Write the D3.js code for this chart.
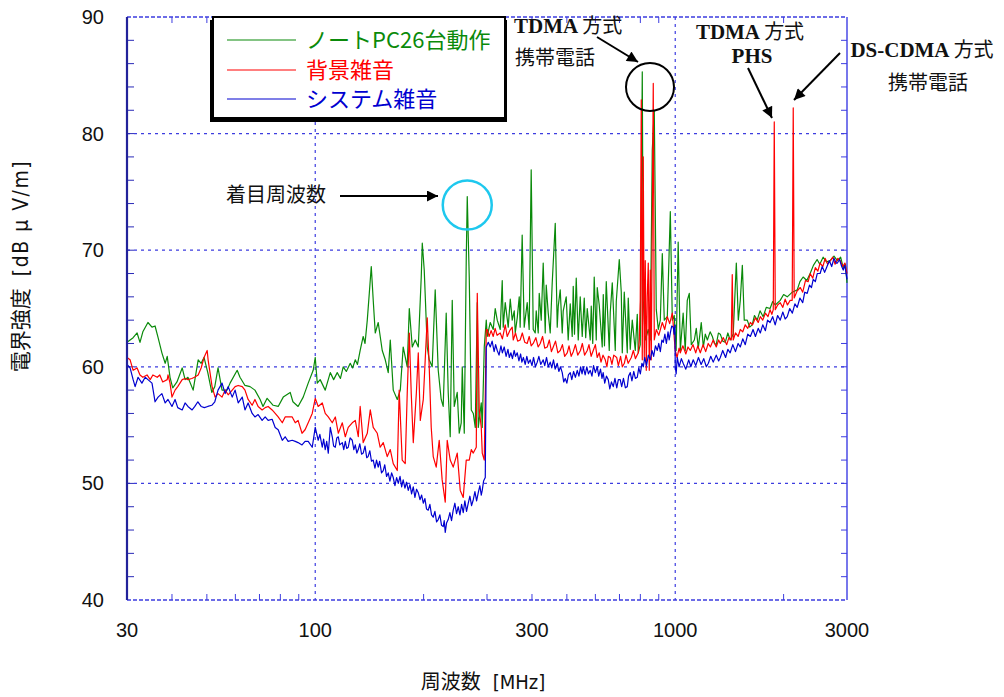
<!DOCTYPE html>
<html><head><meta charset="utf-8">
<script src="https://cdn.jsdelivr.net/npm/d3@7/dist/d3.min.js"></script>
<style>
html,body{margin:0;padding:0;background:#fff;}
svg{display:block;}
</style></head>
<body>
<svg id="chart" width="1004" height="697"></svg>
<script>
// ---------- DATA (frequency MHz, level dBµV/m) ----------
const seriesNames = ["ノートPC26台動作", "背景雑音", "システム雑音"];
const xTickLabels = ["30", "100", "300", "1000", "3000"];
const yTickLabels = [40, 50, 60, 70, 80, 90];

const notePC = [
[30.0,62.1],[30.6,62.3],[31.2,62.5],[32.0,62.9],[32.6,62.1],[33.2,63.0],[34.3,63.8],[35.2,63.4],[35.9,63.5],[36.6,62.5],
[37.5,61.2],[38.3,60.3],[38.8,60.9],[39.5,59.1],[40.2,58.2],[41.3,58.7],[42.7,59.9],[43.5,58.9],[44.3,59.1],[45.8,58.0],
[47.3,60.6],[48.2,60.3],[49.1,60.8],[50.3,59.5],[51.6,57.8],[52.6,58.3],[53.7,59.9],[55.1,58.0],[56.9,58.0],[58.0,58.6],
[60.7,59.7],[61.8,59.1],[63.8,58.4],[65.9,58.3],[68.0,58.0],[70.3,57.2],[71.6,56.6],[73.5,57.3],[76.4,56.7],[78.9,56.6],
[81.5,57.4],[85.2,57.8],[86.7,57.0],[89.6,56.6],[92.6,57.4],[95.6,58.6],[98.7,59.7],[100,60.8],[101.3,58.6],[103.2,58.9],
[106.6,58.0],[110.1,59.5],[112.5,58.9],[115.1,59.5],[117.5,59.0],[119.6,60.0],[122,59.6],[125.1,60.3],[127,59.9],[129.2,60.6],
[131,60.2],[133.3,61.4],[135.9,62.6],[137.5,62.0],[139.5,64.0],[141.3,66.3],
[143.1,68.6],[144.9,65.7],[146.8,62.9],[149.6,63.8],[153.5,61.4],[156.5,60.6],[159.5,59.5],[161.6,62.3],[164.7,58.0],[169.0,57.2],
[172.3,58.0],[175.5,61.7],[180.1,60.0],[182.5,65.0],[186.0,61.7],[189.6,62.3],[193.3,61.7],[197.0,67.7],[198.3,70.6],[200.8,68.3],
[204.7,61.7],[207.3,60.6],[211.3,60.0],[215.4,66.6],[219.6,59.7],[223.8,57.2],[226.7,56.6],[231.1,64.6],[234.1,57.8],[237.1,54.0],
[240.2,65.7],[243.3,56.6],[248.0,57.8],[251.2,54.3],[254.4,55.2],[256.1,60.0],[259.4,54.3],[262.7,69.2],[264.4,74.6],[267.8,67.7],
[271.3,56.3],[274.8,56.0],[278.3,54.8],[281.9,65.5],[283.7,54.8],[289.2,56.9],[291.0,54.8],[294.8,61.7],[298.6,64.0],[300.5,62.6],
[306.3,63.8],[312.2,63.2],[316.2,65.0],[320.3,64.0],[326.5,63.2],[330.7,67.4],[332.8,63.4],[337.1,65.5],[343.6,63.4],[348.1,65.8],
[352.5,64.0],[357.1,64.8],[359.4,62.9],[364.0,64.2],[368.7,66.0],[370.9,63.4],[375.7,71.3],[380.6,63.4],[388.0,65.5],[392.9,63.2],
[398.0,76.9],[403.2,63.2],[408.4,62.9],[411.0,64.8],[416.3,62.9],[419.0,66.3],[424.4,64.0],[429.8,68.9],[435.4,62.9],[438.2,67.0],
[443.8,64.6],[449.5,62.9],[455.3,67.2],[464.2,72.3],[470.1,63.4],[473.2,65.2],[479.2,66.6],[485.4,62.9],[488.5,64.8],[497.9,66.0],
[504.3,62.3],[510.9,65.4],[517.4,62.6],[520.8,66.9],[525,62.8],[530.9,67.6],[537.7,62.3],[544.6,66.0],[551.6,62.6],[558.8,65.9],
[564,62.5],[569.6,65.0],[580.6,62.3],[584.4,65.2],[590,62.0],[595.6,67.7],[603.4,62.3],[607.2,66.8],[615.0,65.3],[626.9,61.7],
[631.1,66.2],[636,61.8],[643.3,67.3],[655.7,61.4],[660,64.7],[668.5,67.2],[681.4,61.4],[685.8,65.6],[699.1,69.2],[708.1,66.4],
[712.7,61.2],[721.8,66.4],[735.8,61.2],[740.4,65.9],[750,61.5],[759.7,64.0],[774.4,61.4],[784.4,64.5],[789.5,61.2],[799.6,61.9],
[809.9,85.3],[815.1,65.7],[825.6,62.3],[841.6,63.2],[852.4,62.3],[863.4,78.6],
[874.5,82.0],[885.8,64.9],[897.3,63.2],[908.9,64.0],[920.6,69.7],[932.4,64.0],[950.5,64.3],[969.0,73.3],[981.5,64.0],[993.6,64.4],
[1006,61.4],[1019,70.7],[1033,61.4],[1052,64.6],[1066,61.4],[1080,65.7],[1094,66.3],[1108,61.9],[1130,62.3],[1144,63.3],[1159,61.6],
[1181,63.8],[1197,61.7],[1212,62.8],[1228,62.3],[1250,63.0],[1268,62.6],[1285,62.0],[1300,61.9],[1318,62.9],[1334,62.8],[1355,62.2],[1377,62.1],
[1400,62.9],[1421,62.3],[1449,62.8],[1478,68.9],
[1497,64.0],[1516,65.7],[1536,68.7],[1555,64.0],[1585,64.0],[1610,63.4],[1636,63.6],[1660,64.4],[1689,64.0],[1720,64.8],[1755,64.3],
[1790,65.1],[1834,65.0],[1865,65.6],[1896,65.3],
[1957,65.7],[2000,66.2],[2047,66.0],[2114,66.4],[2182,66.6],[2220,67.3],[2266,67.7],[2320,67.4],[2370,68.0],[2420,68.7],[2478,69.2],
[2520,68.8],[2575,69.4],[2630,69.0],[2696,69.1],[2760,69.5],[2821,69.1],[2880,69.4],
[2929,68.5],[2970,68.8],[3000,67.2]
];

const background = [
[30.0,60.8],[30.6,60.6],[31.2,59.7],[32.0,59.9],[32.6,59.3],[33.2,59.1],[34.1,59.3],[34.8,58.9],[35.4,59.3],[36.4,59.1],
[37.0,59.3],[37.7,58.7],[38.8,58.9],[39.0,59.3],[39.5,58.6],[40.0,57.4],[40.8,58.0],[41.5,58.3],[42.7,58.9],[43.5,59.0],
[44.3,58.9],[45.4,59.0],[46.2,59.1],[47.3,59.3],[48.2,59.9],[49.1,60.8],[50.1,61.4],[50.4,60.6],[51.7,58.3],[52.7,57.4],
[53.7,57.7],[55.1,57.4],[56.2,58.0],[57.3,57.6],[58.8,58.0],[59.9,58.3],[61.1,58.4],[62.7,58.3],[63.8,58.0],[65.1,57.2],
[66.8,56.7],[68.0,57.2],[69.4,56.6],[71.2,56.3],[72.6,56.5],[74.0,56.6],[75.9,56.3],[77.4,56.0],[78.9,55.7],[81.0,55.2],
[82.5,55.7],[84.1,55.7],[86.3,55.7],[88.0,55.2],[89.6,55.4],[91.9,54.3],[93.7,54.6],[95.6,55.2],[98.1,56.0],[100,57.3],
[101.9,56.6],[104.6,56.9],[106.6,56.0],[108.7,55.7],[111.5,55.2],[113.7,55.7],[115.9,54.3],[118.9,55.2],[121.2,54.0],[123.5,54.8],
[126.7,55.2],[129.2,55.4],[131.7,54.0],[133.3,56.6],[135.9,53.5],[139.5,54.3],[142.2,56.3],[144.9,54.8],[148.7,54.3],[151.5,53.1],
[154.5,53.5],[158.5,52.3],[161.6,52.9],[164.7,51.7],[169.0,51.1],[171.1,58.0],[174.4,52.0],[177.8,51.7],[180.1,57.7],[182.5,62.9],
[184.8,57.7],[187.2,53.5],[190.9,57.7],[193.3,61.2],[195.8,55.4],[199.6,57.2],[204.7,64.2],[207.3,60.0],[210.0,54.8],[212.7,52.3],
[216.8,51.4],[221.0,53.7],[225.2,50.3],[229.7,48.4],[232.6,53.7],[237.1,52.0],[241.7,51.4],[248.0,52.6],[252.8,49.4],[257.7,48.8],
[262.7,52.0],[267.8,52.0],[271.3,52.9],[274.8,52.6],[280.1,53.1],[281.9,66.3],[285.5,56.3],[289.2,54.8],[291.0,52.6],[294.8,52.0],
[298.6,63.2],[300.5,63.2],[304,62.6],[308,63.1],[312.2,62.6],[316,63.3],[320,62.7],[326.5,62.9],[331,62.4],[337.1,63.6],
[341.4,62.6],[347,63.1],[352.5,63.4],[354.8,62.3],[360,62.9],[365,62.2],[370.9,62.3],[376,62.9],[382,62.1],[387.9,62.0],
[393,62.6],[398,61.8],[403.2,62.0],[410,62.5],[416,61.7],[421.7,62.0],[428,62.6],[434,61.6],[441.0,61.7],[447,62.3],
[453,61.3],[458.3,61.7],[465,62.2],[472,61.2],[479.2,61.4],[486,61.9],[493,60.9],[501.1,61.2],[507,61.8],[514,60.9],
[520.9,61.3],[528,61.9],[536,61.0],[545.4,61.4],[552,62.0],[560,61.0],[569.6,61.4],[576,61.9],[584,60.9],[591.9,61.4],
[600,61.9],[607,60.8],[615.0,61.2],[622,60.4],[630,61.0],[639.2,60.6],[646,60.0],[652,60.9],[659.9,60.8],[667,60.2],
[675,61.0],[687.6,60.8],[695,60.1],[705,60.9],[713,60.0],[722.1,60.3],[730,61.0],[740,60.3],[755.0,60.8],[765,61.4],
[775,60.7],[789.5,61.2],[794.5,62.3],[799.6,65.7],[804.7,82.9],
[809.9,60.6],[815.1,78.0],[820.3,60.6],[825.6,69.1],[830.9,59.7],[836.2,66.0],[841.6,68.9],[847.0,59.7],[852.4,68.3],[857.9,60.6],[868.9,84.3],
[874.5,62.3],[885.8,63.2],[900,62.7],[920.6,63.8],[935,63.2],[950.5,64.3],[965,63.7],[981.5,64.6],[1000,61.4],[1012,60.8],
[1025,61.6],[1033,61.2],[1050,61.8],[1070,61.1],[1085,61.7],[1101,61.4],[1120,61.9],[1140,61.2],[1155,61.8],[1174,61.2],
[1195,61.9],[1215,61.3],[1235,62.0],[1252,61.7],[1275,62.3],[1300,61.7],[1320,62.3],[1334,62.0],[1360,62.5],[1390,61.9],
[1410,62.5],[1431,62.3],[1440,67.9],[1449,62.3],[1470,62.9],[1495,62.6],[1516,63.2],[1540,63.0],[1565,63.6],[1590,63.3],
[1617,63.8],[1640,63.6],[1670,64.2],[1700,63.8],[1723,64.3],[1750,64.0],[1780,64.6],[1810,64.3],[1834,64.9],[1855,64.5],
[1872,64.9],[1884,81.0],[1896,64.9],[1925,65.3],[1957,65.5],[1990,65.1],[2020,65.8],[2050,65.3],[2085,65.7],[2113,65.7],
[2127,82.2],[2140,65.9],[2180,66.5],[2225,66.8],[2260,66.4],[2300,67.4],[2340,67.3],[2370,68.0],[2410,67.6],[2450,68.5],
[2490,68.2],[2526,68.9],[2570,68.6],[2610,69.3],[2650,68.8],[2696,69.1],[2740,69.4],[2780,68.8],[2830,69.3],[2873,69.1],
[2920,68.6],[2960,68.9],[3000,68.0]
];

const systemNoise = [
[30.0,60.2],[30.6,59.9],[31.2,58.9],[31.6,58.3],[32.2,59.1],[33.0,58.6],[33.7,59.1],[34.3,58.9],[35.2,58.6],[35.9,57.0],
[36.6,57.4],[37.5,57.7],[38.3,56.9],[39.0,57.2],[40.0,56.6],[40.8,57.2],[41.5,56.5],[42.7,56.3],[43.5,56.9],[44.3,56.6],
[45.5,56.3],[46.3,56.6],[47.2,57.0],[48.2,56.6],[49.2,56.5],[50.3,56.6],[51.6,56.7],[52.6,57.0],[53.7,58.0],[55.1,58.6],
[56.2,57.7],[57.3,58.3],[58.8,57.4],[59.9,58.0],[61.1,56.9],[62.7,57.4],[63.8,56.3],[65.1,56.9],[66.8,56.0],[68.0,55.7],
[69.4,55.9],[71.2,55.4],[72.6,55.7],[74.0,55.4],[75.9,55.5],[77.4,54.8],[78.9,54.6],[81.0,53.7],[82.5,54.0],[84.1,53.6],
[86.3,53.7],[88.0,53.6],[89.6,53.5],[91.9,53.3],[93.7,53.6],[95.6,53.6],[98.1,53.1],[100,54.8],[101.9,53.7],[103,54.2],
[104.6,53.1],[105.5,53.8],[106.6,52.9],[107.6,53.6],[108.7,52.6],[110.1,54.8],[111.5,54.0],[112.5,53.2],[113.7,53.1],[114.8,53.9],
[115.9,54.0],[117,53.3],[118.9,53.5],[120,52.9],[121.2,53.6],[122.3,53.0],[123.5,53.1],[125,53.9],[126.7,53.7],[128,52.9],
[129.2,53.3],[130.5,52.6],[131.7,52.9],[133,53.4],[134.5,52.5],[135.9,52.6],[137.5,53.2],[139,52.2],[140.2,52.3],[141.8,52.8],
[143.3,51.9],[144.9,52.0],[146.5,51.3],[148,52.0],[149.6,51.4],[151,51.9],[152.8,50.9],[154.5,51.1],[156,51.6],[157.8,50.6],
[159.5,50.9],[161.2,50.2],[163,50.9],[164.7,50.5],[166.5,49.8],[168.3,50.5],[170.1,50.0],[172,50.6],[173.8,49.7],[175.5,50.3],
[177.5,49.6],[179.3,50.1],[181.3,49.4],[183.3,49.9],[185.2,49.1],[187.2,49.7],[189.2,48.8],[191.2,49.5],[193.3,49.2],[195.4,48.6],
[197.5,49.0],[199.6,48.3],[201.7,48.7],[203.8,47.8],[206.0,47.7],[208.2,48.2],[210.4,47.3],[212.7,47.1],[215,47.6],[217.3,46.7],
[219.6,46.9],[221.9,47.3],[224.3,46.4],[226.7,46.3],[228.2,46.8],[229.7,45.8],[231.6,46.6],[234.1,46.9],[236.6,47.5],[239.1,46.8],
[241.7,47.7],[244.3,48.3],[246.9,47.4],[249.6,48.0],[252.3,47.3],[255,48.2],[257.7,47.5],[260.4,48.5],[263.2,47.6],[266.1,48.3],
[268.9,48.9],[271.8,48.1],[274.8,48.6],[277.7,49.3],[280.7,48.5],[283.7,49.2],[286.7,49.8],[289.2,49.0],[291.0,49.4],[293.5,50.2],
[296.7,50.5],[298.6,61.7],[302.5,62.1],[306.3,61.7],[310,62.2],[314,61.3],[317,61.9],[320.3,61.4],[324,61.0],[328,61.8],
[331,61.2],[334.9,61.7],[339,60.9],[343,61.5],[346,60.8],[349.6,61.2],[353,60.7],[357,61.4],[360,60.9],[364.0,61.2],
[368,60.5],[372,61.1],[375,60.4],[378.6,60.8],[383,60.2],[387,60.9],[391,60.3],[395.5,60.6],[400,60.1],[404,60.8],
[409,60.0],[413.7,60.4],[418,60.9],[423,60.2],[429.8,60.6],[434,60.1],[439,60.8],[444,60.0],[449.5,60.4],[454,59.9],
[459,60.6],[464,59.8],[470.1,60.3],[475,59.6],[480,60.0],[485.4,59.5],[490,58.7],[494.8,59.0],[500,58.6],[505,59.3],
[511.0,59.5],[516,58.9],[522,59.6],[528,59.1],[534.4,59.7],[540,59.2],[546,60.0],[551,59.4],[555.3,60.0],[562,59.3],
[568,60.0],[574,59.4],[580.6,59.7],[587,59.2],[593,60.1],[600,59.5],[607.2,60.0],[613,59.2],[620,59.8],[626,59.0],
[630.6,59.5],[637,58.6],[644,59.2],[651.5,58.9],[658,58.1],[665,58.7],[672.8,58.3],[680,59.0],[688,58.2],[695,58.9],
[703.4,58.9],[710,58.3],[718,59.0],[727,58.2],[735.8,58.3],[742,59.2],[750.2,59.5],[758,58.8],[767,59.6],[775,59.0],
[784.3,59.1],[792,59.9],[800,59.4],[808,60.3],[815.1,60.0],[823,60.8],[832,60.1],[842,61.0],[852.4,60.6],[862,61.4],
[871,60.9],[881,61.8],[891.6,61.4],[900,62.0],[909,61.3],[918,62.3],[926.5,62.1],[936,62.8],[945,62.0],[955,63.0],
[962,62.3],[969.0,62.9],[978,63.5],[987.7,63.4],[993,62.8],[998,63.6],[1000,60.0],[1006,59.4],[1013,60.8],[1025,60.0],
[1040,60.7],[1052,60.3],[1070,59.8],[1090,60.6],[1105,60.0],[1122,60.6],[1140,60.1],[1160,60.8],[1180,60.2],[1200,60.7],
[1220,60.0],[1236,60.3],[1255,60.9],[1275,60.4],[1300,61.0],[1320,60.5],[1334,60.8],[1355,61.4],[1380,60.8],[1400,61.5],
[1421,61.2],[1445,61.9],[1470,61.3],[1495,62.0],[1516,61.7],[1540,62.4],[1565,61.9],[1590,62.8],[1617,62.6],[1645,63.2],
[1670,62.6],[1700,63.3],[1723,62.9],[1750,63.6],[1780,63.1],[1805,64.0],[1834,63.8],[1865,64.3],[1895,63.6],[1925,64.4],
[1957,64.0],[1990,64.7],[2020,64.1],[2047,64.3],[2080,65.0],[2115,64.6],[2150,65.4],[2182,65.1],[2220,65.9],[2260,65.5],
[2290,66.4],[2326,66.3],[2360,67.0],[2390,66.8],[2417,67.5],[2450,67.3],[2480,68.0],[2526,68.0],[2560,68.6],[2600,68.1],
[2640,68.6],[2680,69.1],[2720,68.6],[2760,69.3],[2800,68.9],[2821,68.9],[2860,69.2],[2900,68.6],[2929,68.3],[2960,68.7],
[3000,67.5]
];

// ---------- LAYOUT ----------
const svg = d3.select("#chart");
const L = 127, R = 847, T = 17, B = 600;
const x = d3.scaleLog().domain([30, 3000]).range([L, R]);
const y = d3.scaleLinear().domain([40, 90]).range([B, T]);

const gridColor = "#3d3de0";
const colors = ["#0a8a0a", "#ff0000", "#0000d0"];
const cjk = "'Noto Sans CJK JP', 'Noto Sans', sans-serif";

const g = svg.append("g");
[50, 60, 70, 80].forEach(v => {
  g.append("line").attr("x1", L).attr("x2", R).attr("y1", y(v)).attr("y2", y(v))
   .attr("stroke", gridColor).attr("stroke-width", 1.2).attr("stroke-dasharray", "3,4");
});
[100, 1000].forEach(v => {
  g.append("line").attr("x1", x(v)).attr("x2", x(v)).attr("y1", T).attr("y2", B)
   .attr("stroke", gridColor).attr("stroke-width", 1.2).attr("stroke-dasharray", "3,4");
});
g.append("line").attr("x1", L).attr("x2", R).attr("y1", T).attr("y2", T)
 .attr("stroke", gridColor).attr("stroke-width", 1.5).attr("stroke-dasharray", "4,2");
g.append("line").attr("x1", L).attr("x2", R).attr("y1", B).attr("y2", B)
 .attr("stroke", gridColor).attr("stroke-width", 1.5).attr("stroke-dasharray", "4,2");
g.append("line").attr("x1", R).attr("x2", R).attr("y1", T).attr("y2", B)
 .attr("stroke", "#4a4ae6").attr("stroke-width", 1.5);

const xMinor = [40, 50, 60, 70, 80, 90, 200, 300, 400, 500, 600, 700, 800, 900, 2000];
xMinor.forEach(v => {
  g.append("line").attr("x1", x(v)).attr("x2", x(v)).attr("y1", B).attr("y2", B - 6)
   .attr("stroke", gridColor).attr("stroke-width", 1);
  g.append("line").attr("x1", x(v)).attr("x2", x(v)).attr("y1", T).attr("y2", T + 6)
   .attr("stroke", gridColor).attr("stroke-width", 1);
});
d3.range(42, 90, 2).forEach(v => {
  g.append("line").attr("x1", L).attr("x2", L + 7).attr("y1", y(v)).attr("y2", y(v))
   .attr("stroke", "#2a2ab8").attr("stroke-width", 1);
  g.append("line").attr("x1", R).attr("x2", R - 6).attr("y1", y(v)).attr("y2", y(v))
   .attr("stroke", gridColor).attr("stroke-width", 1);
});

const line = d3.line().x(d => x(d[0])).y(d => y(d[1]));
const data = [notePC, background, systemNoise];
[0, 1, 2].forEach(i => {
  svg.append("path").datum(data[i]).attr("d", line)
    .attr("fill", "none").attr("stroke", colors[i]).attr("stroke-width", 1.2)
    .attr("stroke-linejoin", "round");
});

svg.append("line").attr("x1", L).attr("x2", L).attr("y1", T).attr("y2", B)
  .attr("stroke", "#22229a").attr("stroke-width", 2.2);

const labelFont = "'Liberation Sans', Arial, sans-serif";
const xLabelAt = [30, 100, 400, 1000, 3000];
xTickLabels.forEach((t, i) => {
  svg.append("text").attr("x", x(xLabelAt[i])).attr("y", 637)
    .attr("text-anchor", "middle").attr("font-family", labelFont).attr("font-size", 20)
    .attr("fill", "#111").text(t);
});
yTickLabels.forEach(v => {
  svg.append("text").attr("x", 104).attr("y", y(v) + 7)
    .attr("text-anchor", "end").attr("font-family", labelFont).attr("font-size", 20)
    .attr("fill", "#111").text(v);
});

// axis titles
const xt = svg.append("text").attr("x", 483).attr("y", 689).attr("text-anchor", "middle")
  .attr("font-family", cjk).attr("font-size", 20).attr("fill", "#111");
xt.append("tspan").text("周波数");
xt.append("tspan").attr("dx", 12).attr("font-family", "'DejaVu Sans Condensed', 'Liberation Sans Narrow', sans-serif").text("[MHz]");
const yt = svg.append("text").attr("transform", "translate(28,266) rotate(-90)")
  .attr("text-anchor", "middle").attr("font-family", cjk).attr("font-size", 21).attr("fill", "#111");
yt.append("tspan").text("電界強度");
yt.append("tspan").attr("dx", 12).attr("font-family", "'DejaVu Sans Condensed', sans-serif").attr("letter-spacing", 1.5).text("[dB μ V/m]");

// legend
const lg = svg.append("g");
lg.append("rect").attr("x", 210).attr("y", 20).attr("width", 297).attr("height", 102).attr("fill", "#000");
lg.append("rect").attr("x", 213).attr("y", 17).attr("width", 292).attr("height", 101)
  .attr("fill", "#fff").attr("stroke", "#000").attr("stroke-width", 2);
const legY = [40, 70, 99];
seriesNames.forEach((n, i) => {
  lg.append("line").attr("x1", 227).attr("x2", 296).attr("y1", legY[i]).attr("y2", legY[i])
    .attr("stroke", colors[i]).attr("stroke-width", 1.2);
  lg.append("text").attr("x", 306).attr("y", legY[i] + 8).attr("font-family", cjk)
    .attr("font-size", 22).attr("fill", colors[i]).text(n);
});

// annotations
const ann = svg.append("g");
svg.append("defs").append("marker").attr("id", "ah").attr("viewBox", "0 0 10 10")
  .attr("refX", 10).attr("refY", 5).attr("markerWidth", 26).attr("markerHeight", 11)
  .attr("markerUnits", "userSpaceOnUse").attr("orient", "auto")
  .append("path").attr("d", "M0,0 L10,5 L0,10 Z").attr("fill", "#000");

function arrow(x1, y1, x2, y2) {
  ann.append("line").attr("x1", x1).attr("y1", y1).attr("x2", x2).attr("y2", y2)
    .attr("stroke", "#000").attr("stroke-width", 2).attr("marker-end", "url(#ah)");
}
const serif = "'Liberation Serif', 'DejaVu Serif', serif";
function mixText(xp, yp, latin, jp, anchor) {
  const t = ann.append("text").attr("x", xp).attr("y", yp).attr("text-anchor", anchor || "start")
    .attr("font-size", 21).attr("fill", "#111");
  t.append("tspan").attr("font-family", serif).attr("font-weight", "bold").text(latin);
  if (jp) t.append("tspan").attr("font-family", cjk).attr("font-size", 20).text(jp);
}
ann.append("text").attr("x", 276).attr("y", 202).attr("text-anchor", "middle")
  .attr("font-family", cjk).attr("font-size", 20).attr("fill", "#111").text("着目周波数");
arrow(340, 196, 438, 196);
ann.append("circle").attr("cx", x(264.4)).attr("cy", 205).attr("r", 24.5)
  .attr("fill", "none").attr("stroke", "#1ec8ee").attr("stroke-width", 2.5);
ann.append("circle").attr("cx", 650).attr("cy", 87).attr("r", 24)
  .attr("fill", "none").attr("stroke", "#000").attr("stroke-width", 2);

mixText(514, 33, "TDMA ", "方式");
ann.append("text").attr("x", 515).attr("y", 65).attr("font-family", cjk).attr("font-size", 20)
  .attr("fill", "#111").text("携帯電話");
arrow(597, 37, 638, 62);

mixText(750, 39, "TDMA ", "方式", "middle");
mixText(752, 63, "PHS", "", "middle");
arrow(748, 68, 772, 118);

mixText(922, 57, "DS-CDMA ", "方式", "middle");
ann.append("text").attr("x", 928).attr("y", 90).attr("text-anchor", "middle").attr("font-family", cjk)
  .attr("font-size", 20).attr("fill", "#111").text("携帯電話");
arrow(840, 53, 794, 100);
</script>
</body></html>
